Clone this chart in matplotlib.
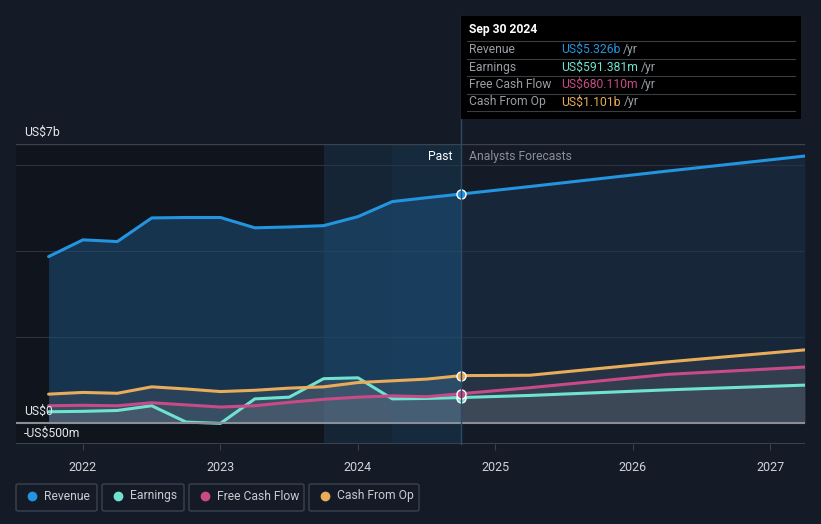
import matplotlib
matplotlib.use("Agg")
import matplotlib.pyplot as plt
import numpy as np
from matplotlib.patches import Rectangle, FancyBboxPatch
from matplotlib.lines import Line2D

plt.rcParams['font.family'] = ['Roboto', 'DejaVu Sans']

# quarterly history (US$ b), Sep 2021 .. Sep 2024
past_x = [2021.75, 2022.0, 2022.25, 2022.5, 2022.75, 2023.0, 2023.25,
          2023.5, 2023.75, 2024.0, 2024.25, 2024.5, 2024.75]
revenue = [3.87, 4.26, 4.22, 4.77, 4.78, 4.78, 4.54, 4.56, 4.59, 4.80, 5.15, 5.24, 5.326]
earnings = [0.26, 0.27, 0.29, 0.40, 0.02, -0.01, 0.56, 0.60, 1.03, 1.05, 0.56, 0.57, 0.591]
fcf = [0.40, 0.41, 0.40, 0.47, 0.42, 0.37, 0.40, 0.48, 0.55, 0.60, 0.63, 0.61, 0.680]
cfo = [0.67, 0.71, 0.69, 0.84, 0.79, 0.73, 0.76, 0.81, 0.84, 0.94, 0.98, 1.02, 1.101]

# analyst forecasts
fc_x = [2024.75, 2025.25, 2026.25, 2027.25]
revenue_fc = [5.326, 5.50, 5.86, 6.21]
earnings_fc = [0.591, 0.64, 0.77, 0.88]
fcf_fc = [0.680, 0.82, 1.13, 1.30]
cfo_fc = [1.101, 1.11, 1.42, 1.70]

years = [2022, 2023, 2024, 2025, 2026, 2027]
names = ["Revenue", "Earnings", "Free Cash Flow", "Cash From Op"]
colors = ["#2394df", "#6fe3d0", "#c84b87", "#e8ac5b"]
tip_values = ["US$5.326b", "US$591.381m", "US$680.110m", "US$1.101b"]

W, H = 821, 524
bg = "#151b26"
fig = plt.figure(figsize=(W / 100, H / 100), dpi=100, facecolor=bg)


def fx(px):
    return px / W


def fy(py):
    return 1 - py / H


ax = fig.add_axes([fx(16), fy(444), fx(805) - fx(16), fy(144) - fy(444)])
ax.set_facecolor(bg)
x0, x1 = 2021.513, 2027.251
y0, y1 = -0.49, 6.49
ax.set_xlim(x0, x1)
ax.set_ylim(y0, y1)
for s in ax.spines.values():
    s.set_visible(False)

# background regions
ax.axvspan(x0, 2023.75, color="#10141c", zorder=0, lw=0)
grad = np.linspace(0.25, 0.75, 64).reshape(1, -1)
ax.imshow(grad, extent=[2023.75, 2024.75, y0, y1], aspect="auto", cmap="Blues_r",
          alpha=0.0, zorder=0)
ax.axvspan(2023.75, 2024.75, color="#17324a", alpha=0.45, zorder=0, lw=0)
ax.axvspan(2024.25, 2024.75, color="#1a3a56", alpha=0.25, zorder=0, lw=0)

for g in [2, 4, 6]:
    ax.axhline(g, color="#2a3442", lw=0.8, zorder=1)
ax.axhline(y1, color="#3a424e", lw=1, zorder=1)

# area fills
ax.fill_between(past_x, revenue, 0, color="#1d4f78", alpha=0.55, lw=0, zorder=2)
ax.fill_between(fc_x, revenue_fc, 0, color="#1b3550", alpha=0.45, lw=0, zorder=2)
for px_, fc_ in [(cfo, cfo_fc), (fcf, fcf_fc), (earnings, earnings_fc)]:
    ax.fill_between(past_x, px_, 0, color="#8a8f98", alpha=0.16, lw=0, zorder=3)
    ax.fill_between(fc_x, fc_, 0, color="#8a8f98", alpha=0.13, lw=0, zorder=3)

series = [(revenue, revenue_fc), (earnings, earnings_fc), (fcf, fcf_fc), (cfo, cfo_fc)]
order = [1, 2, 3, 0]
for i in order:
    p, f = series[i]
    ax.plot(past_x, p, color=colors[i], lw=2.2, zorder=5, solid_capstyle="round")
    ax.plot(fc_x, f, color=colors[i], lw=2.2, zorder=5, solid_capstyle="round")
for i in order:
    ax.plot([past_x[-1]], [series[i][0][-1]], "o", ms=6.5, mfc=colors[i],
            mec="white", mew=1.0, zorder=7)

ax.axhline(0, color="#8b9098", lw=1.5, zorder=6)
ax.axhline(y0, color="#3a424e", lw=1.5, zorder=6)

ax.set_yticks([])
ax.set_xticks(years)
ax.set_xticklabels([str(y) for y in years], color="#d0d3d8", fontsize=9)
ax.tick_params(axis="x", length=4, color="#3a424e", pad=8)

ax.text(2024.75 - 0.06, 6.2, "Past", color="white", fontsize=8.7, ha="right", va="center", zorder=8)
ax.text(2024.75 + 0.06, 6.2, "Analysts Forecasts", color="#8a8f98", fontsize=8.7, ha="left", va="center", zorder=8)

fig.text(fx(24), fy(132), "US$7b", color="#e6e8eb", fontsize=8.7, va="center")
fig.text(fx(24), fy(411), "US$0", color="#e6e8eb", fontsize=8.7, va="center", zorder=10)
fig.text(fx(24), fy(433), "-US$500m", color="#e6e8eb", fontsize=8.7, va="center")

# vertical marker line through tooltip
fig.add_artist(Line2D([fx(461), fx(461)], [fy(16), fy(444)], color="#2c4a66", lw=1, zorder=4))

# tooltip
fig.patches.append(Rectangle((fx(461), fy(119)), fx(801) - fx(461), fy(16) - fy(119),
                             transform=fig.transFigure, facecolor="#000000", edgecolor="none", zorder=5))
fig.text(fx(469), fy(30), "Sep 30 2024", color="white", fontsize=8.7, fontweight="bold", va="center", zorder=6)
for y in [41, 58.5, 76, 93.5, 111]:
    fig.add_artist(Line2D([fx(467), fx(795)], [fy(y), fy(y)], color="#3a3d42", lw=0.8, zorder=6))
renderer = fig.canvas.get_renderer()
for k, (nm, val) in enumerate(zip(names, tip_values)):
    yy = fy(49.5 + k * 17.5)
    fig.text(fx(469), yy, nm, color="#9a9ea5", fontsize=8.7, va="center", zorder=6)
    t = fig.text(fx(561), yy, val, color=colors[k], fontsize=8.7, va="center", zorder=6)
    bb = t.get_window_extent(renderer)
    fig.text(bb.x1 / W + fx(3), yy, "/yr", color="#9a9ea5", fontsize=8.7, va="center", zorder=6)

# legend boxes
boxes = [(16, 97), (102, 184), (189, 304), (309, 419)]
for k, (a, b) in enumerate(boxes):
    fig.patches.append(FancyBboxPatch((fx(a), fy(511)), fx(b) - fx(a), fy(484) - fy(511),
                                      boxstyle="round,pad=0,rounding_size=0.003",
                                      transform=fig.transFigure, facecolor="none",
                                      edgecolor="#3d434d", lw=1))
    fig.add_artist(Line2D([fx(a + 16)], [fy(496)], marker="o", ms=6, color=colors[k], lw=0))
    fig.text(fx(a + 28), fy(496), names[k], color="#c8cbd0", fontsize=8.7, va="center")

fig.savefig("out.png", dpi=100, facecolor=bg)
